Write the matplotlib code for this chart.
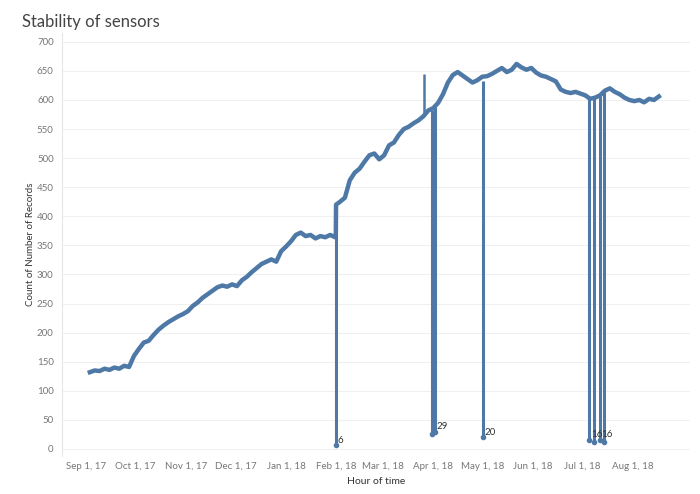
import matplotlib.pyplot as plt
import matplotlib.dates as mdates
import numpy as np
import pandas as pd

plt.rcParams["font.family"] = ["Lato", "DejaVu Sans"]

# hourly record counts, every 3 days from Sep 3, 2017
start = "2017-09-03"
level = [
    132, 135, 134, 138, 136, 140, 138, 143, 141, 160,
    172, 183, 186, 196, 205, 212, 218, 223, 228, 232,
    237, 246, 252, 260, 266, 272, 278, 281, 279, 283,
    280, 290, 296, 304, 311, 318, 322, 326, 322, 340,
    348, 357, 368, 372, 366, 368, 362, 366, 364, 368,
    364, 425, 432, 462, 475, 482, 494, 505, 508, 498,
    505, 522, 527, 540, 550, 554, 560, 565, 572, 582,
    586, 595, 610, 630, 643, 648, 642, 636, 630, 634,
    640, 641, 645, 650, 655, 648, 652, 662, 656, 652,
    655, 647, 642, 640, 636, 632, 618, 614, 612, 614,
    611, 608, 602, 604, 608, 616, 620, 614, 610, 604,
    600, 598, 600, 596, 602, 600, 606,
]

# extra points around the step on Jan 31
step_dates = ["2018-01-31 10:00", "2018-01-31 14:00"]
step_values = [364, 420]

# one-hour outages (drops) and one spike
dip_dates = ["2018-01-31 12:00", "2018-03-31 06:00", "2018-04-02 06:00",
             "2018-05-01 12:00", "2018-07-05 12:00", "2018-07-08 06:00",
             "2018-07-11 18:00", "2018-07-14 06:00"]
dip_values = [6, 25, 29, 20, 16, 12, 16, 12]
dip_tops = [420, 583, 588, 632, 604, 604, 606, 616]
dip_labels = ["6", "", "29", "20", "16", "", "16", ""]

spike_date = "2018-03-26 12:00"
spike_value = 645
spike_base = 572

dates = list(pd.date_range(start, periods=len(level), freq="3D")) + list(pd.to_datetime(step_dates))
vals = level + step_values
s = pd.Series(vals, index=dates).sort_index()

color = "#4e79a7"
fig = plt.figure(figsize=(7.0, 4.94), dpi=100)
ax = fig.add_axes([0.0886, 0.077, 0.897, 0.856])

ax.plot(s.index, s.values, color=color, lw=3.2, solid_joinstyle="round")
dd = pd.to_datetime(dip_dates)
ax.vlines(dd, dip_values, dip_tops, color=color, lw=2.2)
ax.vlines(pd.to_datetime(spike_date), spike_base, spike_value, color=color, lw=1.8)
ax.plot(dd, dip_values, "o", color=color, ms=3)
for d, v, lab in zip(dd, dip_values, dip_labels):
    if lab:
        ax.annotate(lab, (d, v), xytext=(1, 2), textcoords="offset points",
                    fontsize=7, color="#333333")

ax.set_ylim(-12, 715)
ax.set_xlim(pd.Timestamp("2017-08-17"), pd.Timestamp("2018-09-05"))
ax.set_yticks(np.arange(0, 701, 50))
ax.set_xticks(pd.date_range("2017-09-01", "2018-08-01", freq="MS"))
ax.xaxis.set_major_formatter(mdates.DateFormatter("%b %-d, %y"))
ax.tick_params(axis="both", length=0, labelsize=7, colors="#777777", pad=6)
ax.tick_params(axis="x", pad=4)
ax.grid(axis="y", color="#f0f0f0", lw=0.8)
ax.set_axisbelow(True)
for side in ["top", "right", "bottom"]:
    ax.spines[side].set_visible(False)
ax.spines["left"].set_color("#e6e6e6")

ax.set_ylabel("Count of Number of Records", fontsize=7, color="#333333", labelpad=1)
ax.set_xlabel("Hour of time", fontsize=7.5, color="#333333", labelpad=5)
fig.text(0.031, 0.955, "Stability of sensors", fontsize=12, color="#444444", va="center")

fig.savefig("out.png", dpi=100, facecolor="white")
